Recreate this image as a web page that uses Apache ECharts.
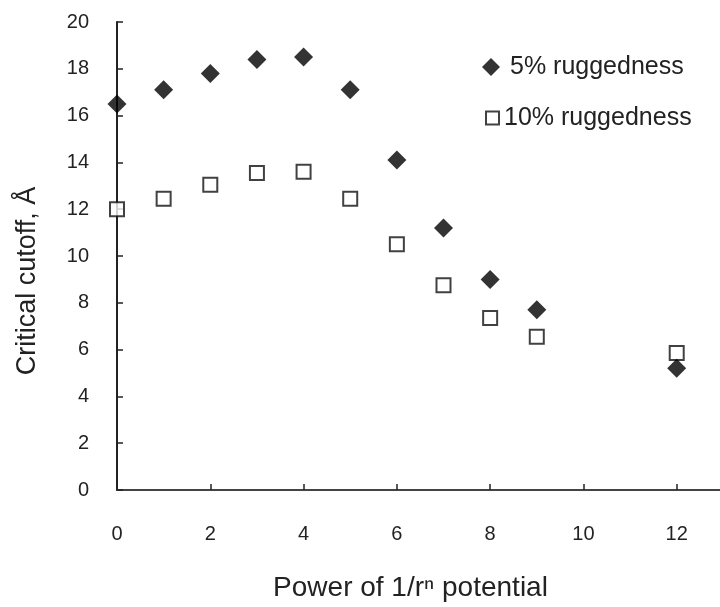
<!DOCTYPE html>
<html>
<head>
<meta charset="utf-8">
<script src="https://cdn.jsdelivr.net/npm/echarts@6/dist/echarts.min.js"></script>
<style>html,body{margin:0;padding:0;background:#fff;overflow:hidden}#c{width:770px;height:607px}</style>
</head>
<body>
<div id="c"></div>
<script>
var powers = [0, 1, 2, 3, 4, 5, 6, 7, 8, 9, 12];
var rug5 = [16.5, 17.1, 17.8, 18.4, 18.5, 17.1, 14.1, 11.2, 9.0, 7.7, 5.2];
var rug10 = [12.0, 12.45, 13.05, 13.55, 13.6, 12.45, 10.5, 8.75, 7.35, 6.55, 5.85];
var seriesNames = ['5% ruggedness', '10% ruggedness'];
var xTitle = 'Power of 1/r\u207F potential';
var yTitle = 'Critical cutoff, \u00C5';

function pairs(xs, ys) { return xs.map(function (x, i) { return [x, ys[i]]; }); }

var FONT = '"Liberation Sans", Arial, sans-serif';
var chart = echarts.init(document.getElementById('c'));
chart.setOption({
  animation: false,
  backgroundColor: '#fff',
  textStyle: { fontFamily: FONT, color: '#222' },
  grid: { left: 117, top: 22, width: 653, height: 469 },
  legend: [{
    orient: 'vertical', left: 477, top: 49,
    itemWidth: 18, itemHeight: 18,
    textStyle: { fontFamily: FONT, fontSize: 25, color: '#222', lineHeight: 26, padding: [0, 0, 0, 5] },
    data: [{ name: seriesNames[0], icon: 'diamond' }]
  }, {
    orient: 'vertical', left: 480, top: 100,
    itemWidth: 13, itemHeight: 13,
    textStyle: { fontFamily: FONT, fontSize: 25, color: '#222', lineHeight: 26 },
    data: [{ name: seriesNames[1], icon: 'rect' }]
  }],
  xAxis: [{
    type: 'value', min: 0, max: 14, interval: 2,
    name: xTitle, nameLocation: 'middle', nameGap: 84,
    nameTextStyle: { fontFamily: FONT, fontSize: 28, color: '#222', padding: [0, 66, 0, 0] },
    axisLine: { show: true, onZero: false, lineStyle: { color: '#222', width: 2 } },
    axisTick: { show: true, inside: true, length: 6, lineStyle: { color: '#222', width: 1.5 } },
    axisLabel: { fontFamily: FONT, fontSize: 20, color: '#222', margin: 34, showMaxLabel: false },
    splitLine: { show: false }
  }, {
    type: 'value', position: 'top', min: 0, max: 14,
    axisLine: { show: true, lineStyle: { color: '#444', width: 2 } },
    axisTick: { show: false }, axisLabel: { show: false }, splitLine: { show: false }
  }],
  yAxis: {
    type: 'value', min: 0, max: 20, interval: 2,
    name: yTitle, nameLocation: 'middle', nameGap: 76, nameRotate: 90,
    nameTextStyle: { fontFamily: FONT, fontSize: 27, color: '#222', padding: [0, 50, 0, 0] },
    axisLine: { show: true, lineStyle: { color: '#222', width: 2 } },
    axisTick: { show: true, inside: true, length: 6, lineStyle: { color: '#222', width: 1.5 } },
    axisLabel: { fontFamily: FONT, fontSize: 20, color: '#222', margin: 28 },
    splitLine: { show: false }
  },
  series: [{
    name: seriesNames[0], type: 'scatter', symbol: 'diamond', symbolSize: 19,
    itemStyle: { color: '#000' },
    data: pairs(powers, rug5), z: 3
  }, {
    name: seriesNames[1], type: 'scatter', symbol: 'rect', symbolSize: 14,
    itemStyle: { color: '#fff', borderColor: '#111', borderWidth: 2 },
    data: pairs(powers, rug10), z: 2
  }]
});
</script>
</body>
</html>
